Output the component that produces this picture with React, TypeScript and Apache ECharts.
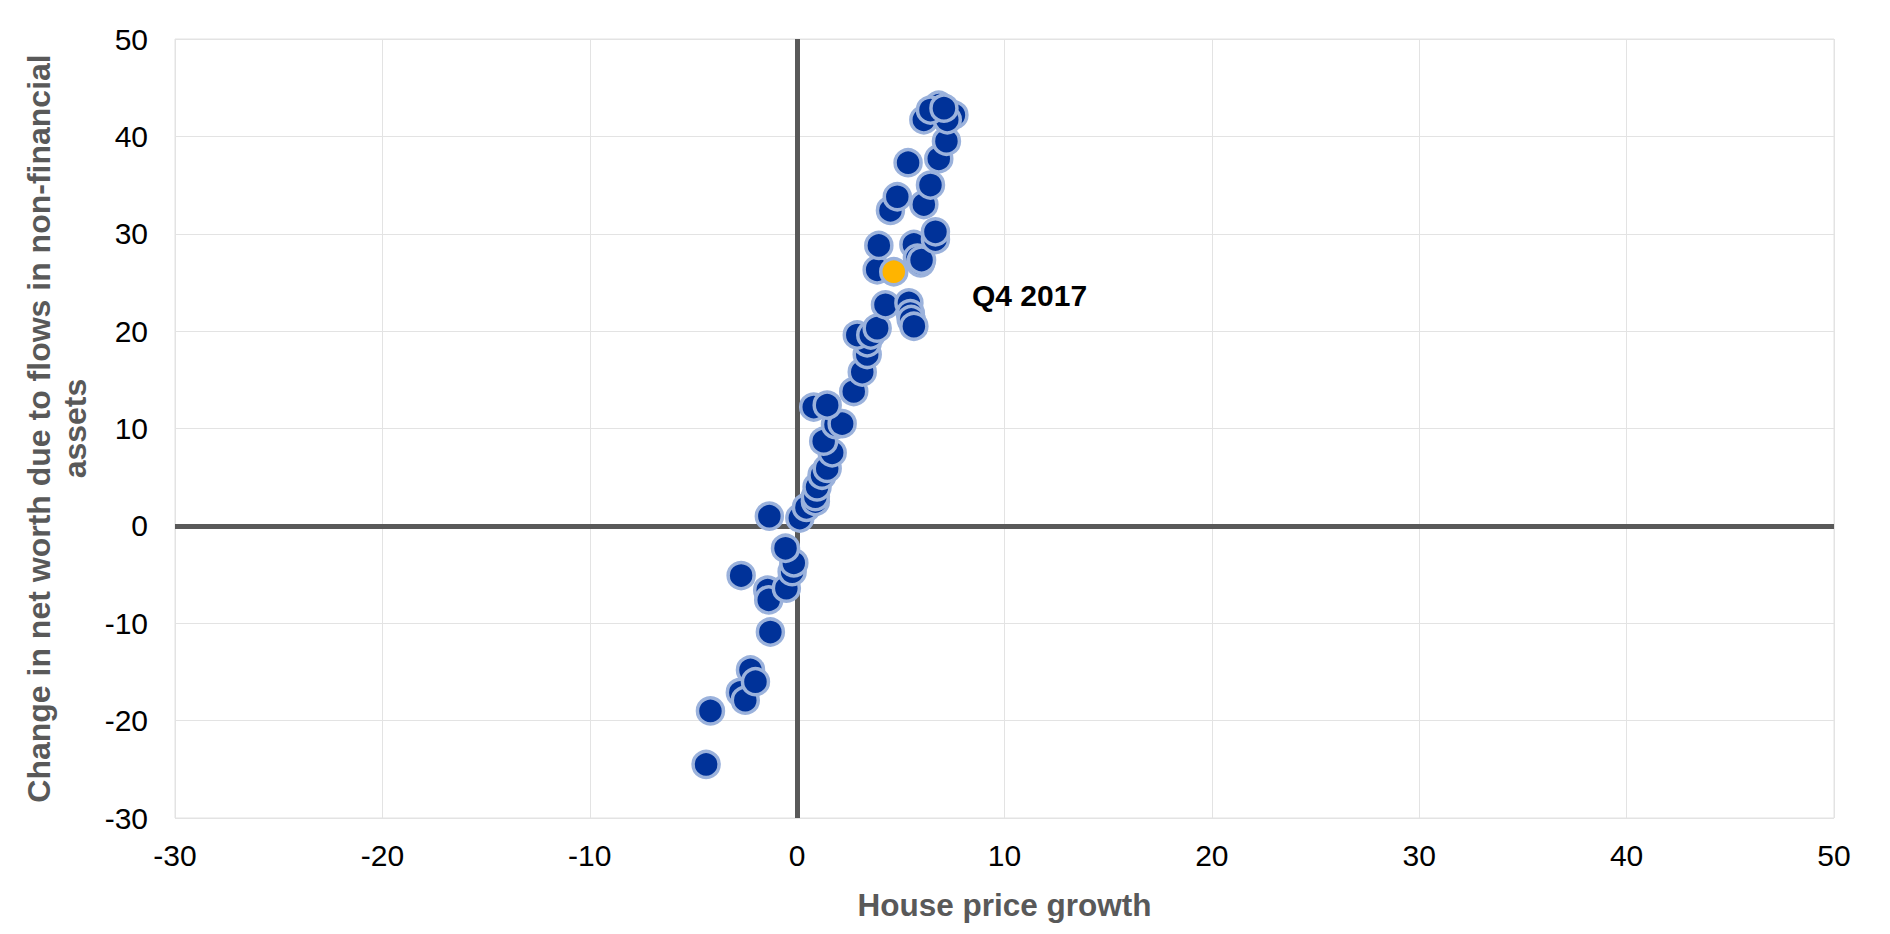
import React, { useEffect, useRef } from "react";
import * as echarts from "echarts";

// House price growth (x) vs change in net worth due to flows in non-financial assets (y)
const housePriceGrowth: number[] = [
  -4.39, -4.18, -2.74, -2.5, -2.25, -2.01, -1.29, -1.42, -1.37, -2.7,
  -0.52, -0.24, -0.16, -0.56, -1.34, 0.13, 0.45, 0.88, 0.88, 0.96,
  1.2, 1.45, 1.69, 1.28, 1.85, 2.17, 0.8, 1.45, 2.73, 3.14,
  3.38, 3.38, 2.9, 3.55, 3.86, 4.26, 5.39, 5.46, 5.5, 5.63,
  3.86, 3.94, 5.63, 5.8, 5.95, 6.0, 6.67, 6.67, 4.5, 6.11,
  4.83, 6.43, 5.35, 6.83, 7.2, 6.11, 6.83, 7.56, 7.24, 6.43,
  7.08
];
const netWorthChange: number[] = [
  -24.5, -19.0, -17.1, -17.9, -14.8, -16.0, -10.9, -6.6, -7.6, -5.1,
  -6.4, -4.7, -3.8, -2.3, 1.0, 0.8, 1.9, 2.5, 3.0, 4.0,
  5.2, 5.9, 7.5, 8.7, 10.4, 10.5, 12.2, 12.4, 13.8, 15.8,
  17.6, 18.8, 19.6, 19.6, 20.3, 22.7, 22.9, 21.8, 21.2, 20.5,
  26.3, 28.8, 28.9, 27.5, 27.0, 27.3, 29.4, 30.2, 32.4, 33.0,
  33.8, 35.0, 37.3, 37.7, 39.5, 41.7, 43.2, 42.2, 41.7, 42.7,
  42.9
];
const latestPoint: [number, number] = [4.66, 26.1];
const latestLabel = "Q4 2017";

const xTitle = "House price growth";
const yTitle = "Change in net worth due to flows in non-financial\nassets";

const FONT = "'Liberation Sans', Arial, sans-serif";

export default function App() {
  const ref = useRef<HTMLDivElement>(null);
  useEffect(() => {
    if (!ref.current) return;
    const chart = echarts.init(ref.current, undefined, { renderer: "svg" });
    const pts = housePriceGrowth.map((x, i) => [x, netWorthChange[i]]);
    chart.setOption({
      animation: false,
      backgroundColor: "#ffffff",
      textStyle: { fontFamily: FONT },
      grid: {
        left: 175,
        right: 56,
        top: 39,
        bottom: 116,
        show: true,
        borderColor: "#e3e3e3",
        borderWidth: 1,
      },
      xAxis: {
        type: "value",
        min: -30,
        max: 50,
        interval: 10,
        name: xTitle,
        nameLocation: "middle",
        nameGap: 71,
        nameTextStyle: { fontFamily: FONT, fontSize: 31.5, fontWeight: "bold", color: "#595959" },
        axisLine: { show: false },
        axisTick: { show: false },
        axisLabel: { fontFamily: FONT, fontSize: 30, color: "#000000", margin: 22 },
        splitLine: { show: true, lineStyle: { color: "#e3e3e3", width: 1 } },
      },
      yAxis: {
        type: "value",
        min: -30,
        max: 50,
        interval: 10,
        name: yTitle,
        nameLocation: "middle",
        nameRotate: 90,
        nameGap: 82,
        nameTextStyle: {
          fontFamily: FONT,
          fontSize: 32,
          fontWeight: "bold",
          color: "#595959",
          lineHeight: 36,
          align: "center",
        },
        axisLine: { show: false },
        axisTick: { show: false },
        axisLabel: { fontFamily: FONT, fontSize: 30, color: "#000000", margin: 27 },
        splitLine: { show: true, lineStyle: { color: "#e3e3e3", width: 1 } },
      },
      series: [
        {
          type: "scatter",
          data: pts,
          symbol: "circle",
          symbolSize: 26,
          itemStyle: { color: "#003299", borderColor: "#9bb2dc", borderWidth: 3.5, opacity: 1 },
          z: 3,
          markLine: {
            silent: true,
            symbol: "none",
            label: { show: false },
            lineStyle: { color: "#595959", width: 5, type: "solid" },
            data: [{ xAxis: 0 }, { yAxis: 0 }],
            z: 1,
          },
        },
        {
          type: "scatter",
          data: [latestPoint],
          symbol: "circle",
          symbolSize: 26,
          itemStyle: { color: "#ffb400", borderColor: "#9bb2dc", borderWidth: 3.5, opacity: 1 },
          z: 4,
          label: {
            show: true,
            formatter: latestLabel,
            position: [93, 39],
            align: "left",
            verticalAlign: "middle",
            fontFamily: FONT,
            fontSize: 30,
            fontWeight: "bold",
            color: "#000000",
          },
        },
      ],
    });
    return () => chart.dispose();
  }, []);
  return (
    <div
      ref={ref}
      style={{ position: "absolute", left: 0, top: 0, width: 1890, height: 934 }}
    />
  );
}
